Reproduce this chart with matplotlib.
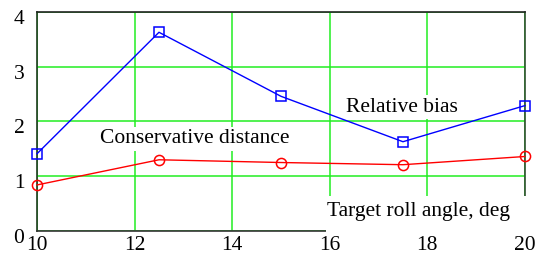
import matplotlib
matplotlib.use("Agg")
import matplotlib.pyplot as plt
import matplotlib.transforms as mtransforms
from matplotlib.patches import Rectangle

roll_angle = [10, 12.5, 15, 17.5, 20]
relative_bias = [1.41, 3.63, 2.46, 1.63, 2.29]
conservative_distance = [0.84, 1.30, 1.25, 1.21, 1.36]

x_ticks = [10, 12, 14, 16, 18, 20]
y_ticks = [0, 1, 2, 3, 4]

plt.rcParams['font.family'] = ['Liberation Serif', 'DejaVu Serif']

fig = plt.figure(figsize=(5.44, 2.56), dpi=100)
ax = fig.add_axes([0.068, 0.098, 0.897, 0.855])

ax.plot(roll_angle, relative_bias, color='#0000ff', lw=1, marker='s', ms=6.5,
        mfc='none', mec='#0000ff', mew=1.1, zorder=4, clip_on=False)
ax.plot(roll_angle, conservative_distance, color='#ff0000', lw=1, marker='o', ms=7.3,
        mfc='none', mec='#ff0000', mew=1.1, zorder=4, clip_on=False)

ax.set_xlim(10, 20)
ax.set_ylim(0, 4)
ax.set_xticks(x_ticks)
ax.set_yticks(y_ticks)
ax.grid(True, color='#22ee22', lw=1.1, zorder=0)
ax.set_axisbelow(True)
ax.tick_params(length=0, labelsize=15.5)
ax.tick_params(axis='x', pad=4)
ax.tick_params(axis='y', pad=9)

# y tick labels sit a bit below their gridlines in the original
offset = mtransforms.ScaledTranslation(0, -5 / 100, fig.dpi_scale_trans)
for lbl in ax.get_yticklabels():
    lbl.set_transform(lbl.get_transform() + offset)

ax.spines['left'].set_color('#1e3a1e')
ax.spines['top'].set_color('#222222')
ax.spines['right'].set_color('#2f4f2f')
ax.spines['bottom'].set_color('#333333')
for s in ax.spines.values():
    s.set_linewidth(1.2)

box = dict(facecolor='white', edgecolor='none', pad=2)
ax.text(13.24, 1.60, 'Conservative distance', fontsize=15.5, ha='center', va='baseline',
        bbox=box, zorder=2)
ax.text(17.47, 2.18, 'Relative bias', fontsize=15.5, ha='center', va='baseline',
        bbox=box, zorder=2)

# white panel behind the axis title, hiding the grid and part of the bottom spine
ax.add_patch(Rectangle((0.592, -0.005), 0.41, 0.165, transform=ax.transAxes,
                       facecolor='white', edgecolor='none', zorder=3, clip_on=False))
ax.text(17.81, 0.275, 'Target roll angle, deg', fontsize=15.5, ha='center', va='baseline',
        zorder=5)

fig.savefig('out.png', dpi=100)
